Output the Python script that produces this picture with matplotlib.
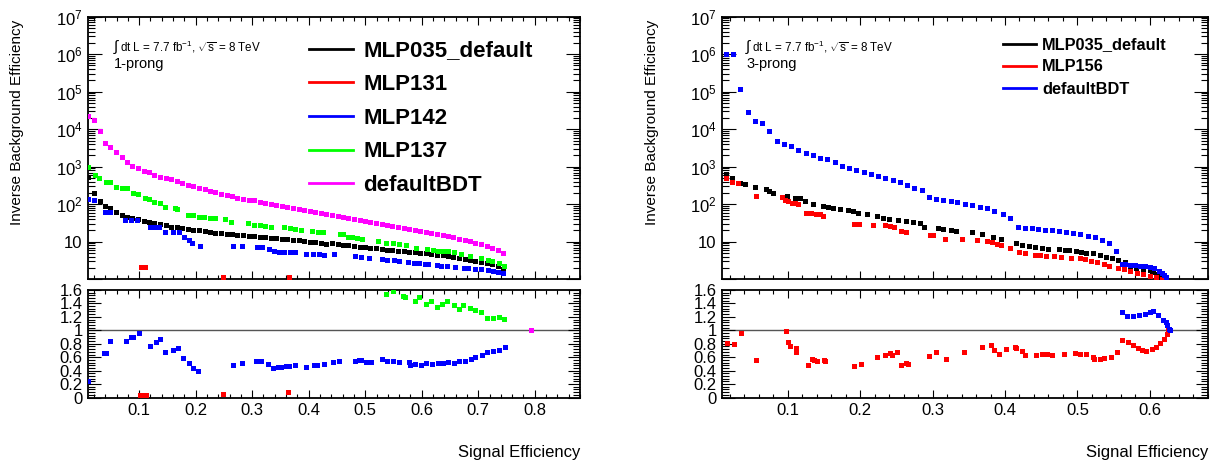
import numpy as np
import matplotlib
matplotlib.use("Agg")
import matplotlib.pyplot as plt
from matplotlib.lines import Line2D
from matplotlib.ticker import (MultipleLocator, FixedLocator, LogLocator,
                               FuncFormatter, NullFormatter, FormatStrFormatter)

plt.rcParams['font.family'] = ['Liberation Sans', 'DejaVu Sans']
plt.rcParams['mathtext.fontset'] = 'custom'
plt.rcParams['mathtext.rm'] = 'Liberation Sans'
plt.rcParams['mathtext.it'] = 'Liberation Sans:italic'
plt.rcParams['mathtext.bf'] = 'Liberation Sans:bold'

# ---------------- 1-prong (left) ----------------
grid1 = [0.010, 0.020, 0.030, 0.039, 0.049, 0.059, 0.069, 0.079, 0.088, 0.098,
         0.108, 0.118, 0.127, 0.137, 0.147, 0.157, 0.167, 0.176, 0.186, 0.196,
         0.206, 0.216, 0.225, 0.235, 0.245, 0.255, 0.265, 0.274, 0.284, 0.294,
         0.304, 0.313, 0.323, 0.333, 0.343, 0.353, 0.362, 0.372, 0.382, 0.392,
         0.402, 0.411, 0.421, 0.431, 0.441, 0.451, 0.460, 0.470, 0.480, 0.490,
         0.500, 0.509, 0.519, 0.529, 0.539, 0.548, 0.558, 0.568, 0.578, 0.588,
         0.597, 0.607, 0.617, 0.627, 0.637, 0.646, 0.656, 0.666, 0.676, 0.686,
         0.695, 0.705, 0.715, 0.725, 0.735, 0.744]

bdt1_y = [22600, 17700, 9000, 4230, 3310, 2440, 1865, 1370, 1050, 946,
          787, 713, 604, 525, 494, 464, 410, 370, 333, 307,
          272, 251, 231, 213, 192, 180, 163, 150, 141, 133,
          128, 117, 108, 102, 94, 90, 85, 78, 74, 69,
          66, 62, 58, 54, 51, 48, 45, 43, 40.5, 38,
          36.5, 34.4, 32.3, 30.4, 28.6, 26.9, 25.3, 23.8, 22.4, 21,
          19.8, 18.6, 17.5, 16.1, 15.2, 14.3, 13.2, 12.1, 11.2, 10.5,
          9.5, 8.7, 7.9, 7.0, 6.0, 4.9]

mlp035_1_y = [525, 200, 125, 90, 78, 61, 52, 47, 42, 40,
              36.6, 34.4, 31, 29.9, 27.5, 25.3, 24.8, 23.3, 21.5, 21,
              20.3, 19, 17.9, 17.5, 16.9, 15.8, 15.8, 15.2, 14.9, 14.3,
              14, 13.4, 13.2, 12.6, 12.6, 12.1, 11.9, 11.2, 11, 10.7,
              10.1, 9.7, 9.3, 8.9, 9.1, 8.6, 8.2, 8.1, 7.7, 7.4,
              7.1, 7.0, 6.7, 6.4, 6.2, 6.0, 5.8, 5.7, 5.45, 5.2,
              5.1, 4.9, 4.7, 4.5, 4.4, 4.2, 4.0, 3.8, 3.5, 3.3,
              3.1, 2.9, 2.7, 2.5, 2.26, 1.85]

mlp137_x = [0.010, 0.022, 0.029, 0.041, 0.049, 0.059, 0.070, 0.078, 0.089, 0.098,
            0.110, 0.118, 0.127, 0.136, 0.146, 0.164, 0.167, 0.186, 0.195, 0.206,
            0.215, 0.225, 0.234, 0.252, 0.263, 0.293, 0.303, 0.313, 0.323, 0.333,
            0.357, 0.367, 0.376, 0.386, 0.406, 0.416, 0.426, 0.455, 0.461, 0.470,
            0.476, 0.486, 0.495, 0.523, 0.536, 0.549, 0.559, 0.573, 0.590, 0.610,
            0.620, 0.629, 0.637, 0.647, 0.657, 0.670, 0.686, 0.705, 0.717, 0.724,
            0.736, 0.746]
mlp137_y = [1000, 604, 512, 401, 386, 284, 277, 267, 196, 185,
            147, 138, 115, 110, 83, 81, 74, 53, 52, 47,
            46, 43, 42, 40, 34, 31, 28, 27.5, 27, 24.8,
            24.4, 22.9, 21.5, 21, 19, 18.3, 17.9, 16.1, 15.8, 13.7,
            13.4, 12.4, 11.9, 10.5, 9.3, 9.3, 8.9, 8.2, 6.8, 6.5,
            5.9, 5.8, 5.7, 5.7, 5.25, 4.8, 4.26, 3.7, 3.2, 3.08,
            2.77, 2.26]

mlp142_x = [0.010, 0.020, 0.039, 0.049, 0.075, 0.086, 0.096, 0.119, 0.128, 0.135,
            0.145, 0.160, 0.170, 0.179, 0.188, 0.194, 0.207, 0.266, 0.282, 0.308,
            0.318, 0.329, 0.339, 0.348, 0.357, 0.367, 0.375, 0.395, 0.408, 0.419,
            0.427, 0.445, 0.482, 0.492, 0.506, 0.530, 0.539, 0.551, 0.560, 0.576,
            0.586, 0.595, 0.605, 0.612, 0.627, 0.635, 0.644, 0.659, 0.674, 0.682,
            0.694, 0.705, 0.718, 0.726, 0.735, 0.744]
mlp142_y = [136, 130, 63.5, 63.5, 38, 38, 38, 25.3, 25.3, 25.3,
            18.6, 17.9, 17.9, 13.7, 11.2, 9.1, 7.9, 7.7, 7.7, 7.4,
            7.4, 6.3, 5.7, 5.45, 5.45, 5.45, 5.45, 4.7, 4.7, 4.7,
            4.5, 4.6, 4.2, 3.9, 3.8, 3.5, 3.3, 3.2, 3.1, 2.95,
            2.7, 2.7, 2.6, 2.56, 2.36, 2.3, 2.26, 2.09, 1.96, 1.96,
            1.92, 1.88, 1.77, 1.7, 1.6, 1.45]

mlp131_x = [0.104, 0.110, 0.249, 0.366]
mlp131_y = [2.17, 2.17, 1.17, 1.17]

# ratios to MLP035_default, 1-prong
r142_x = [0.010, 0.037, 0.041, 0.048, 0.076, 0.085, 0.089, 0.099, 0.119, 0.129,
          0.136, 0.145, 0.159, 0.168, 0.178, 0.188, 0.195, 0.205, 0.266, 0.282,
          0.307, 0.316, 0.328, 0.336, 0.345, 0.351, 0.360, 0.366, 0.375, 0.395,
          0.410, 0.414, 0.427, 0.443, 0.453, 0.482, 0.489, 0.492, 0.501, 0.511,
          0.529, 0.539, 0.549, 0.559, 0.577, 0.580, 0.589, 0.598, 0.607, 0.618,
          0.629, 0.638, 0.647, 0.657, 0.666, 0.677, 0.687, 0.695, 0.706, 0.716,
          0.726, 0.737, 0.747]
r142_v = [0.24, 0.666, 0.655, 0.835, 0.835, 0.9, 0.9, 0.965, 0.765, 0.82,
          0.865, 0.68, 0.705, 0.735, 0.59, 0.51, 0.44, 0.39, 0.48, 0.52,
          0.545, 0.545, 0.495, 0.44, 0.45, 0.455, 0.47, 0.465, 0.485, 0.455,
          0.49, 0.49, 0.5, 0.525, 0.55, 0.54, 0.555, 0.565, 0.525, 0.535,
          0.57, 0.54, 0.55, 0.53, 0.53, 0.49, 0.505, 0.49, 0.515, 0.495,
          0.51, 0.51, 0.53, 0.52, 0.545, 0.55, 0.58, 0.605, 0.64, 0.67,
          0.69, 0.71, 0.745]
r131_x = [0.101, 0.107, 0.112, 0.248, 0.364]
r131_v = [0.04, 0.04, 0.04, 0.05, 0.085]
r137_x = [0.536, 0.549, 0.567, 0.571, 0.588, 0.596, 0.608, 0.617, 0.627, 0.636,
          0.645, 0.657, 0.666, 0.673, 0.686, 0.695, 0.705, 0.716, 0.726, 0.736,
          0.746]
r137_v = [1.54, 1.585, 1.515, 1.49, 1.44, 1.49, 1.395, 1.44, 1.35, 1.39,
          1.44, 1.375, 1.31, 1.37, 1.325, 1.295, 1.27, 1.185, 1.19, 1.205,
          1.17]
rbdt1_x = [0.793]
rbdt1_v = [1.0]

# ---------------- 3-prong (right) ----------------
bdt3_x = [0.015, 0.025, 0.035, 0.045, 0.055, 0.065, 0.075, 0.085, 0.095, 0.105,
          0.115, 0.125, 0.135, 0.145, 0.155, 0.165, 0.175, 0.185, 0.195, 0.205,
          0.215, 0.225, 0.235, 0.245, 0.255, 0.265, 0.275, 0.285, 0.295, 0.305,
          0.315, 0.325, 0.334, 0.345, 0.355, 0.365, 0.375, 0.385, 0.397, 0.407,
          0.418, 0.428, 0.437, 0.446, 0.455, 0.465, 0.475, 0.484, 0.494, 0.504,
          0.514, 0.524, 0.534, 0.544, 0.553, 0.561, 0.566, 0.572, 0.579, 0.586,
          0.593, 0.600, 0.606, 0.612, 0.616, 0.620, 0.622]
bdt3_y = [1e6, 1e6, 1.17e5, 2.95e4, 1.7e4, 1.47e4, 9190, 4870, 4130, 3590,
          2860, 2290, 2070, 1720, 1585, 1320, 1030, 946, 807, 727,
          631, 569, 512, 453, 386, 333, 267, 236, 154, 138,
          130, 125, 115, 102, 98, 86, 78, 68, 56, 42,
          24.4, 23.8, 22.9, 21.9, 21, 20.3, 19, 17.9, 17.2, 16.1,
          14.6, 13.4, 11, 9.3, 5.7, 2.56, 2.51, 2.41, 2.36, 2.32,
          2.27, 2.18, 1.96, 1.7, 1.5, 1.31, 1.13]

mlp035_3_x = [0.015, 0.024, 0.034, 0.041, 0.055, 0.070, 0.075, 0.080, 0.099, 0.110,
              0.117, 0.124, 0.135, 0.149, 0.156, 0.163, 0.173, 0.183, 0.190, 0.197,
              0.209, 0.223, 0.232, 0.240, 0.252, 0.263, 0.273, 0.283, 0.288, 0.307,
              0.314, 0.326, 0.333, 0.354, 0.368, 0.384, 0.395, 0.415, 0.423, 0.433,
              0.442, 0.451, 0.460, 0.475, 0.483, 0.488, 0.498, 0.505, 0.512, 0.522,
              0.531, 0.540, 0.548, 0.556, 0.565, 0.572, 0.581, 0.590, 0.600, 0.604,
              0.611, 0.615]
mlp035_3_y = [643, 493, 377, 341, 295, 251, 222, 200, 170, 150,
              145, 122, 102, 90, 83, 78, 74, 70, 66, 60,
              54, 49, 44, 40.5, 37.4, 35.2, 33.1, 31, 24.8, 23.3,
              21.9, 20.3, 19.4, 17.9, 16.1, 13.7, 11.7, 9.5, 8.1, 7.6,
              7.3, 6.8, 6.5, 6.3, 6.0, 5.9, 5.7, 5.3, 5.1, 4.9,
              4.45, 3.9, 3.6, 3.3, 2.9, 2.04, 2.0, 1.92, 1.77, 1.59,
              1.38, 1.17]

mlp156_x = [0.015, 0.024, 0.032, 0.056, 0.093, 0.096, 0.101, 0.106, 0.110, 0.114,
            0.126, 0.133, 0.139, 0.145, 0.149, 0.191, 0.199, 0.218, 0.234, 0.241,
            0.247, 0.256, 0.263, 0.296, 0.300, 0.317, 0.340, 0.362, 0.375, 0.382,
            0.389, 0.395, 0.407, 0.420, 0.428, 0.441, 0.448, 0.457, 0.467, 0.477,
            0.491, 0.503, 0.510, 0.518, 0.527, 0.536, 0.544, 0.556, 0.564, 0.572,
            0.582, 0.591, 0.600, 0.609, 0.616]
mlp156_y = [512, 386, 363, 170, 154, 130, 122, 110, 106, 100,
            60, 57.5, 56, 54, 50, 29.9, 29.9, 28, 28, 27,
            25.3, 19, 17.9, 15.2, 14.9, 11.9, 11.9, 11.2, 10.3, 9.7,
            8.6, 8.2, 6.7, 5.3, 5.0, 4.5, 4.4, 4.3, 4.2, 3.9,
            3.8, 3.7, 3.5, 3.1, 2.9, 2.56, 2.26, 1.96, 1.85, 1.7,
            1.5, 1.36, 1.22, 1.13, 1.02]

# ratios to MLP035_default, 3-prong
r156_x = [0.016, 0.026, 0.036, 0.057, 0.098, 0.100, 0.103, 0.111, 0.112, 0.128,
          0.134, 0.136, 0.141, 0.150, 0.151, 0.192, 0.201, 0.223, 0.235, 0.242,
          0.244, 0.251, 0.257, 0.263, 0.266, 0.295, 0.305, 0.318, 0.343, 0.368,
          0.381, 0.385, 0.392, 0.401, 0.414, 0.415, 0.424, 0.427, 0.443, 0.451,
          0.458, 0.465, 0.482, 0.496, 0.504, 0.512, 0.521, 0.523, 0.531, 0.536,
          0.546, 0.554, 0.562, 0.570, 0.577, 0.584, 0.589, 0.595, 0.603, 0.608,
          0.614, 0.619, 0.623, 0.625]
r156_v = [0.805, 0.795, 0.966, 0.56, 0.99, 0.83, 0.766, 0.74, 0.683, 0.488,
          0.576, 0.551, 0.537, 0.551, 0.537, 0.463, 0.498, 0.61, 0.634, 0.668,
          0.634, 0.673, 0.478, 0.512, 0.502, 0.624, 0.673, 0.566, 0.678, 0.756,
          0.78, 0.707, 0.649, 0.722, 0.756, 0.732, 0.693, 0.634, 0.634, 0.654,
          0.644, 0.634, 0.644, 0.663, 0.649, 0.644, 0.6, 0.571, 0.58, 0.585,
          0.61, 0.683, 0.854, 0.83, 0.78, 0.732, 0.702, 0.693, 0.722, 0.756,
          0.815, 0.878, 0.946, 1.0]
rbdt3_x = [0.562, 0.569, 0.577, 0.585, 0.593, 0.600, 0.604, 0.611, 0.618, 0.622,
           0.624, 0.626, 0.627]
rbdt3_v = [1.278, 1.21, 1.22, 1.229, 1.244, 1.268, 1.288, 1.234, 1.156, 1.122,
           1.073, 1.024, 1.0]

BLACK, RED, BLUE, GREEN, MAGENTA = '#000000', '#ff0000', '#0000ff', '#00ff00', '#ff00ff'
MS = 3.6
LUMI = r'dt L = 7.7 fb$^{-1}$, $\sqrt{\mathregular{s}}$ = 8 TeV'

fig = plt.figure(figsize=(12.23, 4.62), dpi=100)
ax1 = fig.add_axes([0.0722, 0.3955, 0.4020, 0.5684])
ax1r = fig.add_axes([0.0722, 0.1396, 0.4020, 0.2327])
ax2 = fig.add_axes([0.5906, 0.3955, 0.3971, 0.5684])
ax2r = fig.add_axes([0.5906, 0.1396, 0.3971, 0.2327])


def log_label(v, pos):
    n = int(round(np.log10(v)))
    if n < 1:
        return ''
    return '10' if n == 1 else r'$\mathregular{10^{%d}}$' % n


def setup_top(ax, xlim):
    ax.set_yscale('log')
    ax.set_xlim(*xlim)
    ax.set_ylim(1, 1e7)
    ax.yaxis.set_major_locator(FixedLocator([10.0 ** k for k in range(0, 8)]))
    ax.yaxis.set_minor_locator(LogLocator(base=10, subs=np.arange(2, 10), numticks=20))
    ax.yaxis.set_major_formatter(FuncFormatter(log_label))
    ax.yaxis.set_minor_formatter(NullFormatter())
    ax.xaxis.set_major_locator(MultipleLocator(0.1))
    ax.xaxis.set_minor_locator(MultipleLocator(0.02))
    ax.tick_params(which='both', direction='in', top=True, right=True,
                   labelbottom=False, width=0.8)
    ax.tick_params(axis='y', which='major', length=10, labelsize=12, pad=4)
    ax.tick_params(axis='y', which='minor', length=5)
    ax.tick_params(axis='x', which='major', length=6)
    ax.tick_params(axis='x', which='minor', length=3)
    for s in ax.spines.values():
        s.set_linewidth(1.3)
    ax.set_ylabel('Inverse Background Efficiency', fontsize=11,
                  ha='center', va='top', rotation_mode='default')
    ax.yaxis.set_label_coords(-0.145, 0.987)
    ax.yaxis.label.set_horizontalalignment('center')
    ax.yaxis.label.set_verticalalignment('top')


def setup_ratio(ax, xlim):
    ax.set_xlim(*xlim)
    ax.set_ylim(0, 1.6)
    ax.xaxis.set_major_locator(MultipleLocator(0.1))
    ax.xaxis.set_minor_locator(MultipleLocator(0.02))
    ax.yaxis.set_major_locator(MultipleLocator(0.2))
    ax.yaxis.set_minor_locator(MultipleLocator(0.04))
    ax.xaxis.set_major_formatter(FormatStrFormatter('%g'))
    ax.yaxis.set_major_formatter(FormatStrFormatter('%g'))
    ax.tick_params(which='both', direction='in', top=True, right=True, width=0.8)
    ax.tick_params(axis='x', which='major', length=6, labelsize=12, pad=4)
    ax.tick_params(axis='x', which='minor', length=3)
    ax.tick_params(axis='y', which='major', length=9, labelsize=12, pad=4)
    ax.tick_params(axis='y', which='minor', length=5)
    for s in ax.spines.values():
        s.set_linewidth(1.3)
    ax.axhline(1.0, color='#555555', lw=1.0, zorder=1)
    ax.set_xlabel('Signal Efficiency', fontsize=12, loc='right')
    ax.xaxis.set_label_coords(1.0, -0.44)


def pts(ax, x, y, c):
    ax.plot(x, y, ls='none', marker='s', ms=MS, mew=0, color=c, zorder=3)


def lumi(ax, x0, label):
    ax.text(x0, 0.885, r'$\int$', transform=ax.transAxes, fontsize=11, va='center')
    ax.text(x0 + 0.0145, 0.885, LUMI, transform=ax.transAxes, fontsize=8.4, va='center')
    ax.text(x0 + 0.002, 0.82, label, transform=ax.transAxes, fontsize=10.5, va='center')


# left panel
setup_top(ax1, (0.01, 0.88))
pts(ax1, grid1, mlp035_1_y, BLACK)
pts(ax1, mlp131_x, mlp131_y, RED)
pts(ax1, mlp142_x, mlp142_y, BLUE)
pts(ax1, mlp137_x, mlp137_y, GREEN)
pts(ax1, grid1, bdt1_y, MAGENTA)
lumi(ax1, 0.05, '1-prong')
names1 = ['MLP035_default', 'MLP131', 'MLP142', 'MLP137', 'defaultBDT']
cols1 = [BLACK, RED, BLUE, GREEN, MAGENTA]
ax1.legend([Line2D([], [], color=c, lw=2) for c in cols1], names1,
           loc='upper left', bbox_to_anchor=(0.449, 0.91), frameon=False,
           prop={'weight': 'bold', 'size': 16}, handlelength=2.0,
           handletextpad=0.45, labelspacing=0.57, borderpad=0, borderaxespad=0)

setup_ratio(ax1r, (0.01, 0.88))
pts(ax1r, r131_x, r131_v, RED)
pts(ax1r, r142_x, r142_v, BLUE)
pts(ax1r, r137_x, r137_v, GREEN)
pts(ax1r, rbdt1_x, rbdt1_v, MAGENTA)

# right panel
setup_top(ax2, (0.01, 0.68))
pts(ax2, mlp035_3_x, mlp035_3_y, BLACK)
pts(ax2, mlp156_x, mlp156_y, RED)
pts(ax2, bdt3_x, bdt3_y, BLUE)
lumi(ax2, 0.047, '3-prong')
names3 = ['MLP035_default', 'MLP156', 'defaultBDT']
cols3 = [BLACK, RED, BLUE]
ax2.legend([Line2D([], [], color=c, lw=2) for c in cols3], names3,
           loc='upper left', bbox_to_anchor=(0.578, 0.921), frameon=False,
           prop={'weight': 'bold', 'size': 11.8}, handlelength=2.0,
           handletextpad=0.4, labelspacing=0.43, borderpad=0, borderaxespad=0)

setup_ratio(ax2r, (0.01, 0.68))
pts(ax2r, r156_x, r156_v, RED)
pts(ax2r, rbdt3_x, rbdt3_v, BLUE)

fig.savefig('out.png', dpi=100)
